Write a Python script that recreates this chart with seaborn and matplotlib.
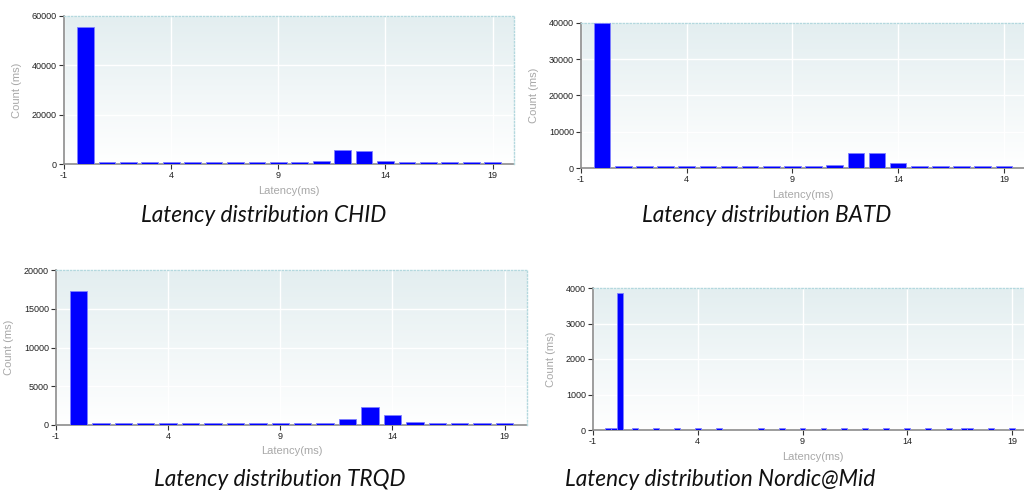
import numpy as np
import matplotlib
matplotlib.use("Agg")
import matplotlib.pyplot as plt
import seaborn as sns
from matplotlib.colors import LinearSegmentedColormap

# ---------------- data ----------------
latency_bins = [0, 1, 2, 3, 4, 5, 6, 7, 8, 9, 10, 11, 12, 13, 14, 15, 16, 17, 18, 19]
chid_counts = [55500, 700, 700, 700, 700, 700, 700, 700, 700, 700, 700,
               1200, 5800, 5300, 1200, 700, 700, 700, 700, 700]
batd_counts = [39900, 480, 480, 480, 480, 480, 480, 480, 480, 480, 480,
               830, 4000, 4000, 1300, 480, 480, 480, 480, 480]
trqd_counts = [17300, 250, 250, 250, 250, 250, 250, 250, 250, 250, 250,
               250, 740, 2380, 1290, 350, 250, 250, 250, 250]
nordic_bins = [-0.28, 0.0, 0.28, 1, 2, 3, 4, 5, 7, 8, 9, 10, 11, 12, 13,
               14, 15, 16, 16.72, 17, 18, 19]
nordic_counts = [55, 55, 3850, 55, 55, 55, 55, 55, 55, 55, 55, 55, 55, 55, 55,
                 55, 55, 55, 55, 55, 55, 55]

x_ticks = [-1, 4, 9, 14, 19]
chid_yticks = [0, 20000, 40000, 60000]
batd_yticks = [0, 10000, 20000, 30000, 40000]
trqd_yticks = [0, 5000, 10000, 15000, 20000]
nordic_yticks = [0, 1000, 2000, 3000, 4000]

captions = ["Latency distribution CHID", "Latency distribution BATD",
            "Latency distribution TRQD", "Latency distribution Nordic@Mid"]
x_label = "Latency(ms)"
y_label = "Count (ms)"

# ---------------- style ----------------
sns.set_theme(style="white")
plt.rcParams["font.family"] = ["Liberation Sans", "DejaVu Sans"]

W, H = 1024, 490
fig = plt.figure(figsize=(W / 100, H / 100), dpi=100)


def px_axes(left, top, right, bottom):
    return fig.add_axes([left / W, 1 - bottom / H, (right - left) / W, (bottom - top) / H])


grad = np.linspace(0, 1, 256).reshape(-1, 1)
bg_cmap = LinearSegmentedColormap.from_list("bg", ["#e3eef0", "#ffffff"])


def style_axes(ax, yticks, width_scale, bins, counts):
    ax.imshow(grad, extent=[0, 1, 0, 1], transform=ax.transAxes, aspect="auto",
              cmap=bg_cmap, zorder=0, interpolation="bilinear")
    sns.barplot(x=bins, y=counts, native_scale=True, orient="x", width=width_scale,
                color="#0000ff", saturation=1, edgecolor="#8080ff", linewidth=0.6,
                ax=ax, zorder=3)
    ax.set_xlim(-1, 20)
    ax.set_ylim(yticks[0], yticks[-1])
    ax.set_xticks(x_ticks)
    ax.set_xticklabels([str(t) for t in x_ticks])
    ax.set_yticks(yticks)
    ax.set_yticklabels([str(t) for t in yticks])
    ax.grid(True, color="white", linewidth=1.0, zorder=1)
    ax.set_axisbelow(True)
    for s in ["left", "bottom"]:
        ax.spines[s].set_color("#8c8c8c")
        ax.spines[s].set_linewidth(1.2)
        ax.spines[s].set_zorder(2)
    for s in ["top", "right"]:
        ax.spines[s].set_color("#b4d8de")
        ax.spines[s].set_linewidth(1.0)
        ax.spines[s].set_linestyle((0, (1, 1.5)))
    ax.tick_params(axis="both", direction="out", length=3.5, width=0.8,
                   color="#333333", labelsize=6.5, labelcolor="#222222", pad=1.5,
                   left=True, bottom=True)
    ax.set_xlabel(x_label, fontsize=8, color="#a8a8a8", labelpad=4)
    ax.set_ylabel(y_label, fontsize=8, color="#a8a8a8", labelpad=7)


ax1 = px_axes(64, 16, 514, 164)
style_axes(ax1, chid_yticks, 0.78, latency_bins, chid_counts)

ax2 = px_axes(581, 23, 1025, 168)
style_axes(ax2, batd_yticks, 0.78, latency_bins, batd_counts)

ax3 = px_axes(56, 270, 527, 425)
style_axes(ax3, trqd_yticks, 0.78, latency_bins, trqd_counts)

ax4 = px_axes(593, 288, 1033, 430)
style_axes(ax4, nordic_yticks, 1.0, nordic_bins, nordic_counts)

cap_font = dict(family=["Lato", "DejaVu Sans"], style="italic", fontsize=16.3, color="#111111",
                ha="center", va="center")
fig.text(264 / W, 1 - 216 / H, captions[0], **cap_font)
fig.text(767 / W, 1 - 216 / H, captions[1], **cap_font)
fig.text(280 / W, 1 - 479 / H, captions[2], **cap_font)
fig.text(720 / W, 1 - 479 / H, captions[3], **cap_font)

fig.savefig("out.png", dpi=100)
